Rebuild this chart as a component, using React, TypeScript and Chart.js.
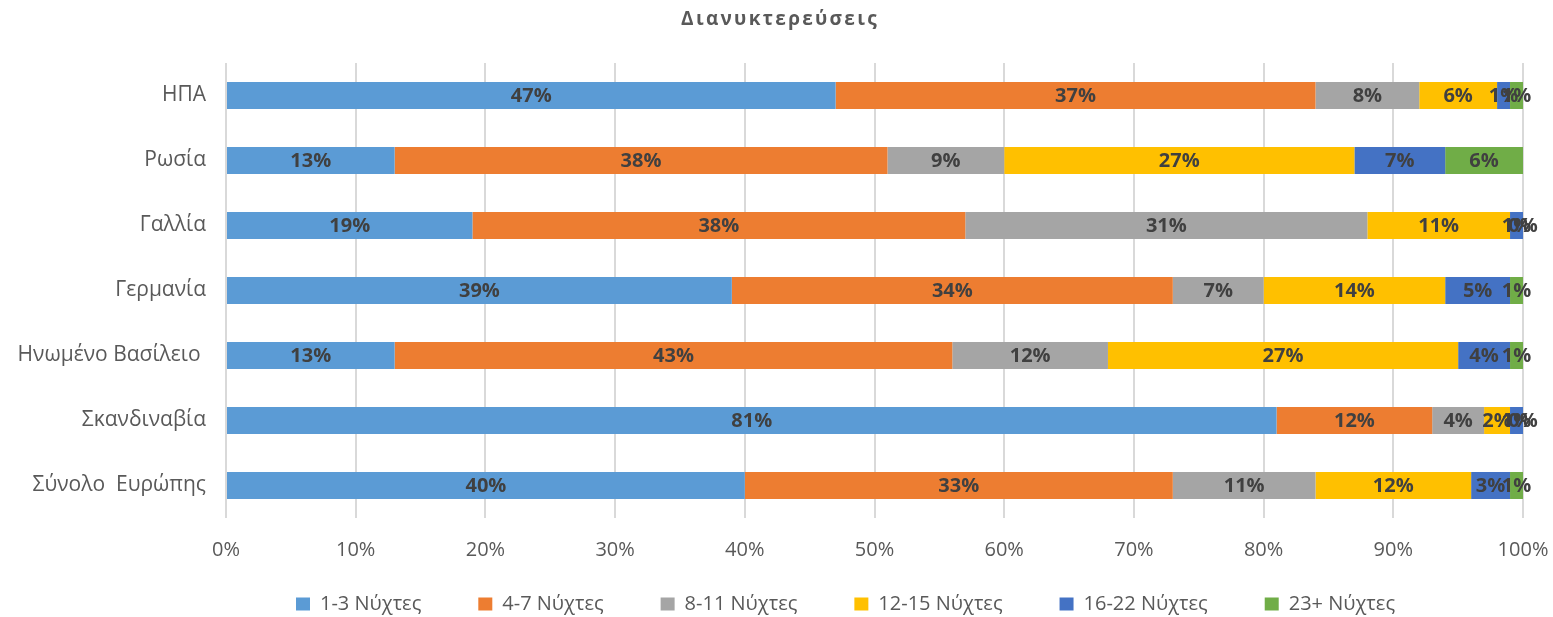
import React, { useEffect, useRef } from "react";
import { Chart, registerables } from "chart.js";

Chart.register(...registerables);

const titleText = "Διανυκτερεύσεις";

const categories = [
  "ΗΠΑ",
  "Ρωσία",
  "Γαλλία",
  "Γερμανία",
  "Ηνωμένο Βασίλειο ",
  "Σκανδιναβία",
  "Σύνολο  Ευρώπης",
];

const seriesNames = [
  "1-3 Νύχτες",
  "4-7 Νύχτες",
  "8-11 Νύχτες",
  "12-15 Νύχτες",
  "16-22 Νύχτες",
  "23+ Νύχτες",
];

const nights1to3 = [47, 13, 19, 39, 13, 81, 40];
const nights4to7 = [37, 38, 38, 34, 43, 12, 33];
const nights8to11 = [8, 9, 31, 7, 12, 4, 11];
const nights12to15 = [6, 27, 11, 14, 27, 2, 12];
const nights16to22 = [1, 7, 1, 5, 4, 1, 3];
const nights23plus = [1, 6, 0, 1, 1, 0, 1];

const xTicks = [0, 10, 20, 30, 40, 50, 60, 70, 80, 90, 100];

const colors = ["#5B9BD5", "#ED7D31", "#A5A5A5", "#FFC000", "#4472C4", "#70AD47"];

const FONT = "'Open Sans', 'Noto Sans', sans-serif";
const LEGEND_PAD = 57;
const LEGEND_FIRST_X = 296;
const LEGEND_TOP = 537;

const dataLabelPlugin = {
  id: "segLabels",
  afterDatasetsDraw(chart: any) {
    const ctx = chart.ctx;
    ctx.save();
    ctx.font = `bold 20px ${FONT}`;
    ctx.fillStyle = "#404040";
    ctx.textAlign = "center";
    ctx.textBaseline = "middle";
    chart.data.datasets.forEach((ds: any, i: number) => {
      const meta = chart.getDatasetMeta(i);
      if (meta.hidden) return;
      meta.data.forEach((el: any, j: number) => {
        const p = el.getProps(["x", "y", "base"], true);
        const cx = (p.x + p.base) / 2;
        ctx.fillText(`${ds.data[j]}%`, cx, p.y + 1);
      });
    });
    ctx.restore();
  },
};

const titlePlugin = {
  id: "spacedTitle",
  afterDraw(chart: any) {
    const ctx = chart.ctx;
    ctx.save();
    ctx.font = `bold 19px ${FONT}`;
    (ctx as any).letterSpacing = "2.3px";
    ctx.fillStyle = "#595959";
    ctx.textAlign = "center";
    ctx.textBaseline = "middle";
    ctx.fillText(titleText, 780, 20);
    ctx.restore();
  },
};

const legendTweakPlugin = {
  id: "legendTweak",
  afterInit(chart: any) {
    const legend = chart.legend;
    if (!legend) return;
    const origFit = legend.fit.bind(legend);
    legend.fit = function () {
      origFit();
      this.height = 55;
    };
  },
  afterLayout(chart: any) {
    const legend = chart.legend;
    if (!legend || !legend.lineWidths) return;
    const lw = legend.lineWidths[0];
    legend.left = LEGEND_FIRST_X - LEGEND_PAD;
    legend.right = legend.left + lw + LEGEND_PAD;
    legend.top = LEGEND_TOP;
    legend.bottom = 617;
  },
};

export default function App() {
  const ref = useRef<HTMLCanvasElement>(null);

  useEffect(() => {
    document.body.style.margin = "0";
    const values = [nights1to3, nights4to7, nights8to11, nights12to15, nights16to22, nights23plus];
    const chart = new Chart(ref.current!, {
      type: "bar",
      data: {
        labels: categories,
        datasets: seriesNames.map((name, i) => ({
          label: name,
          data: values[i],
          backgroundColor: colors[i],
          borderWidth: 0,
          categoryPercentage: 0.8,
          barPercentage: 0.52,
        })),
      },
      options: {
        indexAxis: "y",
        animation: false,
        responsive: false,
        maintainAspectRatio: false,
        layout: { padding: { left: 0, right: 30, top: 63, bottom: 0 } },
        scales: {
          x: {
            stacked: true,
            min: 0,
            max: 100,
            afterBuildTicks: (scale: any) => {
              scale.ticks = xTicks.map((v) => ({ value: v }));
            },
            afterFit: (scale: any) => {
              scale.height = 44;
              scale.paddingLeft = 0;
              scale.paddingRight = 0;
            },
            ticks: {
              callback: (v: any) => `${v}%`,
              color: "#595959",
              font: { family: FONT, size: 20 },
              padding: 20,
              maxRotation: 0,
            },
            grid: { color: "#D9D9D9", lineWidth: 2, drawTicks: false },
            border: { display: false },
          },
          y: {
            stacked: true,
            afterFit: (scale: any) => {
              scale.width = 226;
            },
            ticks: {
              color: "#595959",
              font: { family: FONT, size: 21 },
              padding: 20,
            },
            grid: { display: false, drawTicks: false },
            border: { display: false },
          },
        },
        plugins: {
          title: { display: false },
          legend: {
            position: "bottom",
            labels: {
              boxWidth: 14,
              boxHeight: 13,
              color: "#595959",
              font: { family: FONT, size: 20 },
              padding: LEGEND_PAD,
            },
          },
          tooltip: { enabled: false },
        },
      },
      plugins: [dataLabelPlugin, titlePlugin, legendTweakPlugin],
    });
    return () => chart.destroy();
  }, []);

  return (
    <div style={{ width: 1553, height: 617 }}>
      <canvas ref={ref} width={1553} height={617} style={{ width: 1553, height: 617 }} />
    </div>
  );
}
